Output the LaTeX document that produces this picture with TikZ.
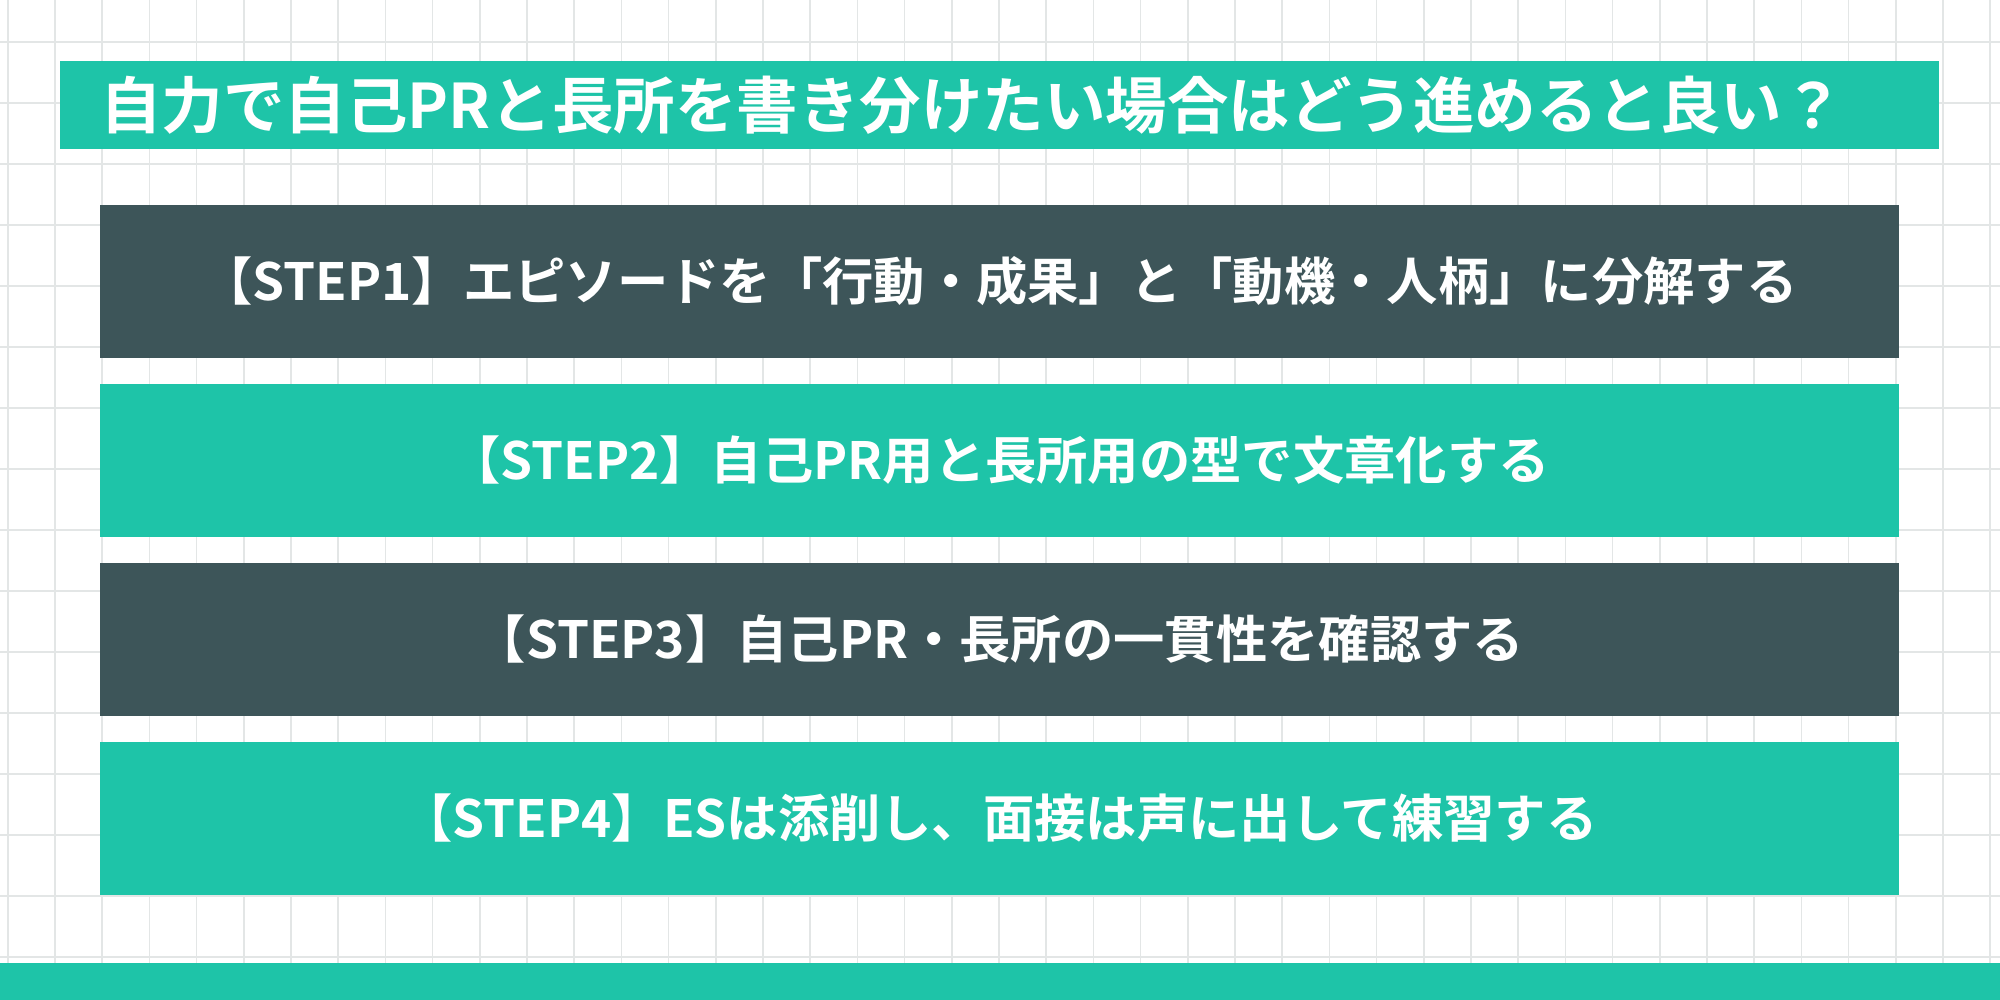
\documentclass[tikz,border=0pt]{standalone}
\usepackage{fontspec}
\setmainfont{Noto Sans CJK JP}[BoldFont={Noto Sans CJK JP Bold}]
\usetikzlibrary{positioning}
\definecolor{stepteal}{HTML}{1EC4A8}
\definecolor{stepslate}{HTML}{3D5559}
\definecolor{gridline}{HTML}{E3E6E6}

\begin{document}
\begin{tikzpicture}[
    node distance=0.26cm,
    stepbox/.style={rectangle, minimum width=17.99cm, minimum height=1.53cm,
                    inner sep=0pt, outer sep=0pt, text=white,
                    font=\bfseries\fontsize{14.6}{17}\selectfont},
    darkbox/.style={stepbox, fill=stepslate},
    lightbox/.style={stepbox, fill=stepteal},
    titlebar/.style={rectangle, fill=stepteal, text=white, text width=17.99cm,
                     inner xsep=0.4cm, inner ysep=0pt, outer sep=0pt,
                     minimum height=0.88cm, align=left,
                     font=\bfseries\fontsize{17.5}{20}\selectfont},
    gridrule/.style={gridline, line width=0.5pt}
  ]
  \useasboundingbox (0,0) rectangle (20,10);
  % squared paper
  \fill[white] (0,0) rectangle (20,10);
  \foreach \i in {0,...,42}
    \draw[gridrule] ({0.078+0.472*\i},0) -- ({0.078+0.472*\i},10);
  \foreach \j in {0,...,15}
    \draw[gridrule] (0,{9.58-0.61*\j}) -- (20,{9.58-0.61*\j});

  \node[titlebar, anchor=north west] (title) at (0.6,9.39) {自力で自己PRと長所を書き分けたい場合はどう進めると良い？};
  \node[darkbox, anchor=north west] (step1) at (1.0,7.95) {【STEP1】エピソードを「行動・成果」と「動機・人柄」に分解する};
  \node[lightbox, below=of step1] (step2) {【STEP2】自己PR用と長所用の型で文章化する};
  \node[darkbox, below=of step2] (step3) {【STEP3】自己PR・長所の一貫性を確認する};
  \node[lightbox, below=of step3] (step4) {【STEP4】ESは添削し、面接は声に出して練習する};

  \fill[stepteal] (0,0) rectangle (20,0.37);
\end{tikzpicture}
\end{document}
